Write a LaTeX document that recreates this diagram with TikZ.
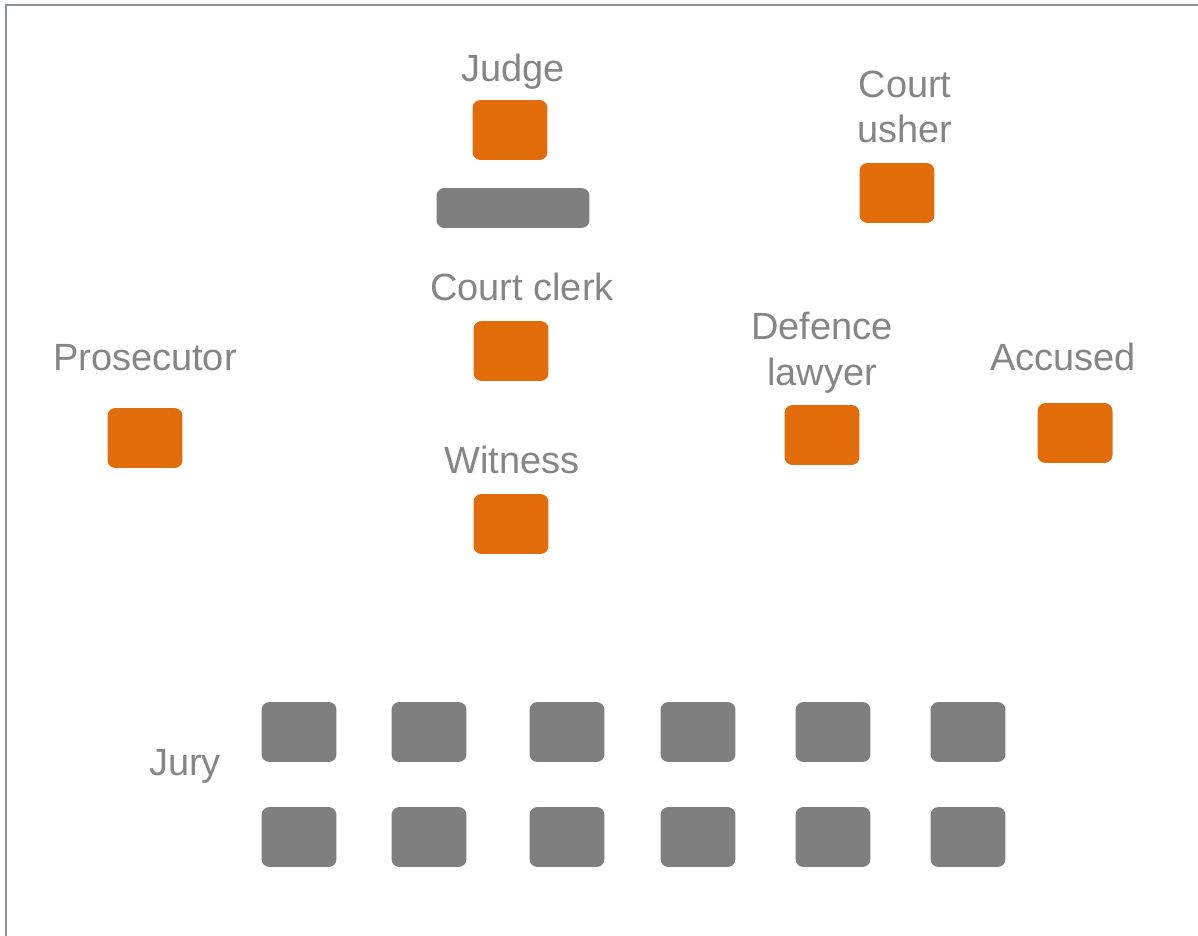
\documentclass[tikz,border=0pt]{standalone}
\usepackage{fontspec}
\setmainfont{Liberation Sans}
\usetikzlibrary{positioning}
\definecolor{seatorange}{HTML}{E36C0A}
\definecolor{seatgray}{HTML}{7F7F7F}
\definecolor{labelgray}{HTML}{858585}
\definecolor{framegray}{HTML}{8C9196}

\begin{document}
\begin{tikzpicture}[x=0.02cm, y=-0.02cm, on grid,
    seat/.style={rectangle, rounded corners=0.16cm, minimum width=1.5cm,
                 minimum height=1.2cm, inner sep=0pt},
    party/.style={seat, fill=seatorange},
    juror/.style={seat, fill=seatgray},
    role/.style={text=labelgray, font=\fontsize{21.6}{26}\selectfont,
                 align=center, inner sep=0pt}]
        \useasboundingbox (0,0) rectangle (1198,936);
        \draw[framegray, line width=1.2pt] (6,936) -- (6,5) -- (1198,5);

        \node[party]            (judge)      at (510,130)  {};
        \node[seat, fill=seatgray, minimum width=3.06cm,
              minimum height=0.8cm] (bench) at (513,208)  {};
        \node[party]            (usher)      at (897,193)  {};
        \node[party]            (clerk)      at (511,351)  {};
        \node[party]            (prosecutor) at (145,438)  {};
        \node[party]            (defence)    at (822,435)  {};
        \node[party]            (accused)    at (1075,433) {};
        \node[party]            (witness)    at (511,524)  {};

        \node[role] (judge_l)      [above=1.16cm of judge, xshift=0.06cm]      {Judge};
        \node[role] (usher_l)      [above=1.72cm of usher, xshift=0.16cm]      {Court\\usher};
        \node[role] (clerk_l)      [above=1.28cm of clerk, xshift=0.22cm]      {Court clerk};
        \node[role] (prosecutor_l) [above=1.60cm of prosecutor]                {Prosecutor};
        \node[role] (defence_l)    [above=1.65cm of defence]                   {Defence\\lawyer};
        \node[role] (accused_l)    [above=1.52cm of accused, xshift=-0.24cm]   {Accused};
        \node[role] (witness_l)    [above=1.28cm of witness, xshift=0.02cm]    {Witness};

        % jury box, two rows of six
        \foreach \x [count=\i] in {299,429,567,698,833,968} {
          \node[juror] (jury_a\i) at (\x,732) {};
          \node[juror] (jury_b\i) at (\x,837) {};
        }
        \node[role] (jury_l) at (185,766) {Jury};
\end{tikzpicture}
\end{document}
